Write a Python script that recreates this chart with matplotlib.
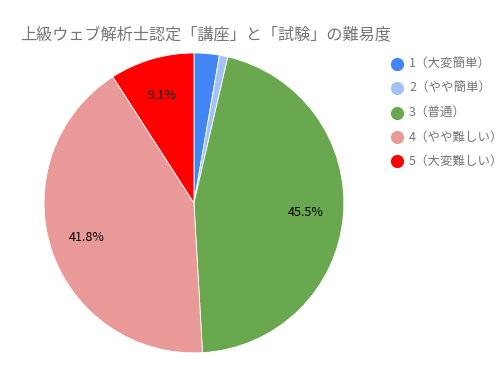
import matplotlib
matplotlib.use('Agg')
import matplotlib.pyplot as plt
from matplotlib.lines import Line2D

plt.rcParams['font.family'] = ['Noto Sans CJK JP', 'DejaVu Sans']

# datos del grafico
categorias = ['1（大変簡単）', '2（やや簡単）', '3（普通）', '4（やや難しい）', '5（大変難しい）']
valores = [3, 1, 50, 46, 10]
colores = ['#4285F4', '#A4C2F4', '#6AA84F', '#EA9999', '#FF0000']
titulo = '上級ウェブ解析士認定「講座」と「試験」の難易度'

fig = plt.figure(figsize=(5.04, 3.71), dpi=100)
ax = fig.add_axes([0.0873, 0.0485, 0.595, 0.809])

def etiqueta(pct):
    return f'{pct:.1f}%' if pct >= 5 else ''

ax.pie(valores, colors=colores, startangle=90, counterclock=False,
       autopct=etiqueta, pctdistance=0.75,
       wedgeprops=dict(edgecolor='white', linewidth=0.6),
       textprops=dict(fontsize=9, color='#000000'))
ax.set_xlim(-1, 1)
ax.set_ylim(-1, 1)
ax.set_aspect('equal')

fig.text(20 / 504, 1 - 35 / 371, titulo, fontsize=11.6, color='#757575',
         va='center', ha='left')

# leyenda manual
y0 = 64
for i, (cat, col) in enumerate(zip(categorias, colores)):
    y = 1 - (y0 + i * 24.3) / 371
    fig.add_artist(Line2D([397 / 504], [y], marker='o', markersize=8.5,
                          color=col, linestyle='none', transform=fig.transFigure))
    fig.text(409 / 504, y, cat, fontsize=9, color='#757575', va='center', ha='left')

plt.savefig('out.png', dpi=100)
